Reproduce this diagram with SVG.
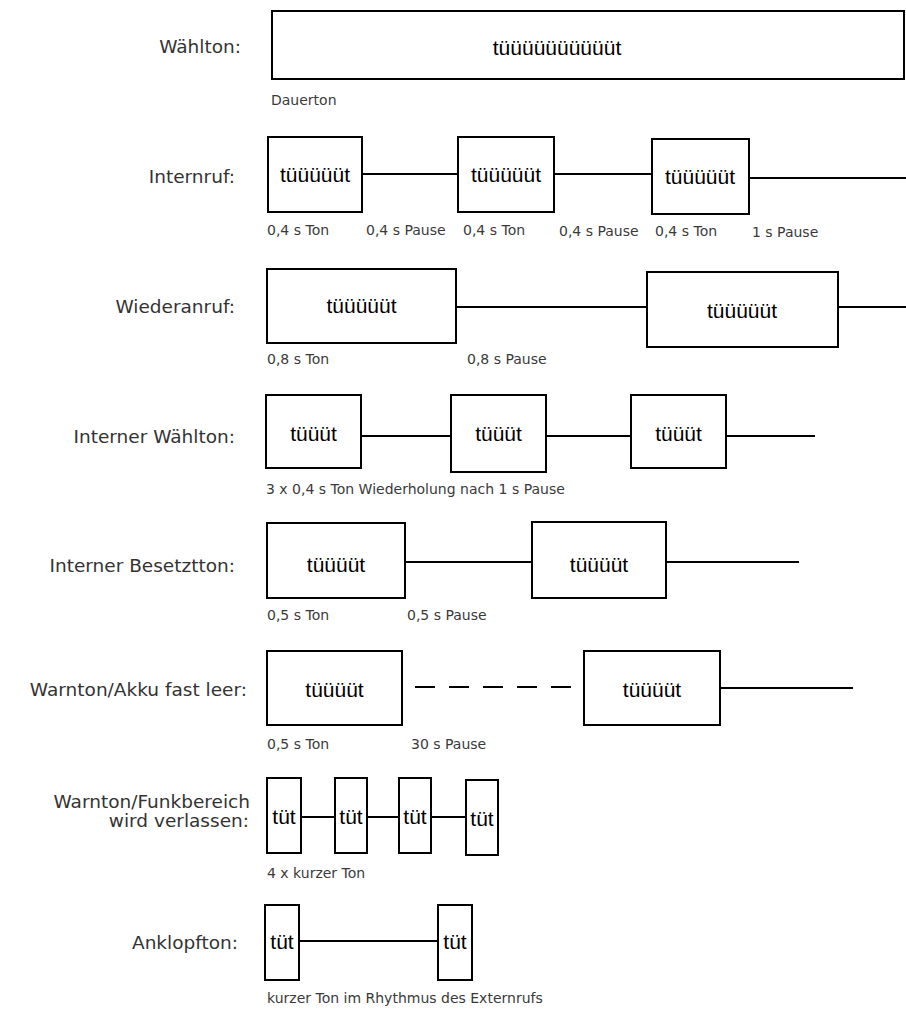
<svg xmlns="http://www.w3.org/2000/svg" width="906" height="1010" viewBox="0 0 906 1010">
<style>
.box{fill:#fff;stroke:#000;stroke-width:2}
.ln{stroke:#000;stroke-width:2;fill:none}
.dash{stroke:#000;stroke-width:2;fill:none;stroke-dasharray:20 14}
.cat{font-family:"DejaVu Sans","Liberation Sans",sans-serif;font-size:18.5px;fill:#333;text-anchor:end}
.bt{font-family:"Liberation Sans",Arial,sans-serif;font-size:21px;fill:#000;text-anchor:middle}
.sm{font-family:"DejaVu Sans","Liberation Sans",sans-serif;font-size:14px;fill:#3a3a3a}
</style>
<rect width="906" height="1010" fill="#fff"/>

<g id="labels">
<text class="cat" x="241" y="52.5">Wählton:</text>
<text class="cat" x="235" y="182.5">Internruf:</text>
<text class="cat" x="235" y="312.5">Wiederanruf:</text>
<text class="cat" x="235" y="443">Interner Wählton:</text>
<text class="cat" x="235" y="572">Interner Besetztton:</text>
<text class="cat" x="247" y="696">Warnton/Akku fast leer:</text>
<text class="cat" x="250" y="808">Warnton/Funkbereich</text>
<text class="cat" x="249" y="827">wird verlassen:</text>
<text class="cat" x="238" y="949">Anklopfton:</text>
</g>

<g id="connectors">
<line class="ln" x1="362" y1="174" x2="458" y2="174"/>
<line class="ln" x1="554" y1="174" x2="652" y2="174"/>
<line class="ln" x1="749" y1="178" x2="906" y2="178"/>
<line class="ln" x1="456" y1="307" x2="647" y2="307"/>
<line class="ln" x1="838" y1="307" x2="906" y2="307"/>
<line class="ln" x1="361" y1="436" x2="451" y2="436"/>
<line class="ln" x1="546" y1="436" x2="631" y2="436"/>
<line class="ln" x1="726" y1="436" x2="815" y2="436"/>
<line class="ln" x1="405" y1="562" x2="532" y2="562"/>
<line class="ln" x1="666" y1="562" x2="799" y2="562"/>
<line class="dash" x1="415" y1="687" x2="571" y2="687"/>
<line class="ln" x1="720" y1="688" x2="853" y2="688"/>
<line class="ln" x1="301" y1="817" x2="335" y2="817"/>
<line class="ln" x1="367" y1="817" x2="399" y2="817"/>
<line class="ln" x1="431" y1="817" x2="466" y2="817"/>
<line class="ln" x1="299" y1="941" x2="438" y2="941"/>
</g>

<g id="waehlton">
<rect class="box" x="272" y="11" width="632" height="68"/>
<text class="bt" x="557" y="54.5">tüüüüüüüüüüt</text>
</g>
<text class="sm" x="271" y="105">Dauerton</text>

<g id="internruf-1"><rect class="box" x="268" y="137" width="94" height="75"/><text class="bt" x="315" y="181.5">tüüüüüt</text></g>
<g id="internruf-2"><rect class="box" x="458" y="137" width="96" height="75"/><text class="bt" x="506" y="181.5">tüüüüüt</text></g>
<g id="internruf-3"><rect class="box" x="652" y="139" width="97" height="75"/><text class="bt" x="700" y="183.5">tüüüüüt</text></g>
<g id="internruf-labels">
<text class="sm" x="267" y="235">0,4 s Ton</text>
<text class="sm" x="366" y="235">0,4 s Pause</text>
<text class="sm" x="463" y="235">0,4 s Ton</text>
<text class="sm" x="559" y="236">0,4 s Pause</text>
<text class="sm" x="655" y="236">0,4 s Ton</text>
<text class="sm" x="752" y="237">1 s Pause</text>
</g>

<g id="wiederanruf-1"><rect class="box" x="267" y="269" width="189" height="74"/><text class="bt" x="361.5" y="312.5">tüüüüüt</text></g>
<g id="wiederanruf-2"><rect class="box" x="647" y="272" width="191" height="75"/><text class="bt" x="742" y="317.5">tüüüüüt</text></g>
<g id="wiederanruf-labels">
<text class="sm" x="267" y="364">0,8 s Ton</text>
<text class="sm" x="467" y="364">0,8 s Pause</text>
</g>

<g id="iwt-1"><rect class="box" x="266" y="395" width="95" height="73"/><text class="bt" x="313.5" y="441">tüüüt</text></g>
<g id="iwt-2"><rect class="box" x="451" y="395" width="95" height="77"/><text class="bt" x="498.5" y="441">tüüüt</text></g>
<g id="iwt-3"><rect class="box" x="631" y="395" width="95" height="73"/><text class="bt" x="678.5" y="441">tüüüt</text></g>
<text class="sm" x="266" y="494">3 x 0,4 s Ton Wiederholung nach 1 s Pause</text>

<g id="ibt-1"><rect class="box" x="267" y="523" width="138" height="75"/><text class="bt" x="336" y="572">tüüüüt</text></g>
<g id="ibt-2"><rect class="box" x="532" y="522" width="134" height="76"/><text class="bt" x="599" y="572">tüüüüt</text></g>
<g id="ibt-labels">
<text class="sm" x="267" y="620">0,5 s Ton</text>
<text class="sm" x="407" y="620">0,5 s Pause</text>
</g>

<g id="akku-1"><rect class="box" x="267" y="651" width="135" height="74"/><text class="bt" x="334.5" y="697">tüüüüt</text></g>
<g id="akku-2"><rect class="box" x="584" y="651" width="136" height="74"/><text class="bt" x="652" y="697">tüüüüt</text></g>
<g id="akku-labels">
<text class="sm" x="267" y="749">0,5 s Ton</text>
<text class="sm" x="411" y="749">30 s Pause</text>
</g>

<g id="funk-1"><rect class="box" x="267" y="778" width="34" height="75"/><text class="bt" x="284" y="824">tüt</text></g>
<g id="funk-2"><rect class="box" x="335" y="778" width="32" height="75"/><text class="bt" x="351" y="824">tüt</text></g>
<g id="funk-3"><rect class="box" x="399" y="778" width="32" height="75"/><text class="bt" x="415" y="824">tüt</text></g>
<g id="funk-4"><rect class="box" x="466" y="780" width="32" height="75"/><text class="bt" x="482" y="826">tüt</text></g>
<text class="sm" x="267" y="878">4 x kurzer Ton</text>

<g id="anklopf-1"><rect class="box" x="265" y="905" width="34" height="75"/><text class="bt" x="282" y="949">tüt</text></g>
<g id="anklopf-2"><rect class="box" x="438" y="905" width="34" height="75"/><text class="bt" x="455" y="949">tüt</text></g>
<text class="sm" x="267" y="1003">kurzer Ton im Rhythmus des Externrufs</text>
</svg>
